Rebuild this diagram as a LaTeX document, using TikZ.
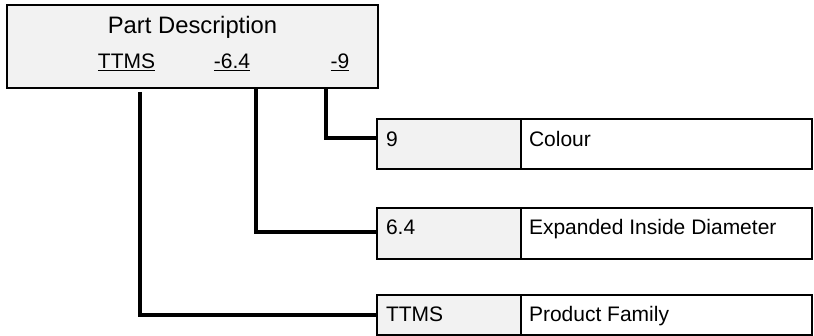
\documentclass[tikz,border=0pt]{standalone}
\usepackage{fontspec}
\setmainfont{Liberation Sans}
\usetikzlibrary{calc}
\definecolor{boxgray}{HTML}{F2F2F2}
\begin{document}
\begin{tikzpicture}[x=1pt,y=-1pt,
  box/.style={draw=black, line width=2pt, fill=boxgray, inner sep=0pt, outer sep=0pt, anchor=north west},
  codecell/.style={box, fill=boxgray, minimum width=144pt},
  desccell/.style={box, fill=white, minimum width=291pt},
  txt/.style={anchor=base west, inner sep=0pt, outer sep=0pt, font=\fontsize{21}{25}\selectfont},
  lbl/.style={anchor=base, inner sep=0pt, outer sep=0pt, font=\fontsize{21}{25}\selectfont},
  conn/.style={draw=black, line width=4pt, line join=miter}
]
\useasboundingbox (0,0) rectangle (814,336);

% top description box
\node[box, minimum width=371pt, minimum height=83pt] (desc) at (7,5) {};
\node[anchor=base, inner sep=0pt, font=\fontsize{23.8}{28}\selectfont] (title) at (192.5,33.5) {Part Description};
\node[lbl] (ttms) at (126.5,69) {\underline{TTMS}};
\node[lbl] (d64) at (232,69) {\underline{-6.4}};
\node[lbl] (d9) at (340,69) {\underline{-9}};

% row 1: colour
\node[codecell, minimum height=50pt] (c9) at (377,119) {};
\node[desccell, minimum height=50pt] (n9) at (521,119) {};
\node[txt] (c9t) at (386,146.5) {9};
\node[txt] (n9t) at (529,146.5) {Colour};

% row 2: diameter
\node[codecell, minimum height=51pt] (c64) at (377,208) {};
\node[desccell, minimum height=51pt] (n64) at (521,208) {};
\node[txt] (c64t) at (386,235) {6.4};
\node[txt] (n64t) at (529,235) {Expanded Inside Diameter};

% row 3: family
\node[codecell, minimum height=40pt] (cf) at (377,295) {};
\node[desccell, minimum height=40pt] (nf) at (521,295) {};
\node[txt] (cft) at (386,322) {TTMS};
\node[txt] (nft) at (529,322) {Product Family};

% connectors
\draw[conn] ($(desc.south west)+(319,0)$) |- ($(c9.north west)+(0,19)$);
\draw[conn] ($(desc.south west)+(249,0)$) |- ($(c64.north west)+(0,24)$);
\draw[conn] ($(desc.south west)+(133,4)$) |- ($(cf.north west)+(0,20)$);
\end{tikzpicture}
\end{document}
